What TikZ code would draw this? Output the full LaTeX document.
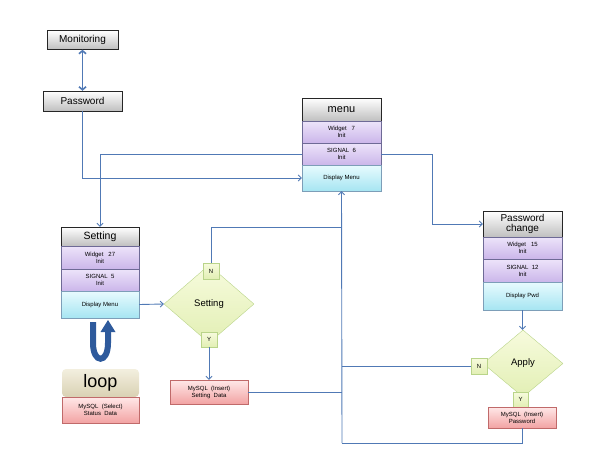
\documentclass[tikz,border=0pt]{standalone}
\usepackage{fontspec}
\setmainfont{Liberation Sans}
\usetikzlibrary{shapes.geometric,arrows.meta,shadows}
\definecolor{conn}{HTML}{5079B5}
\definecolor{lavtop}{HTML}{EDE4FA}
\definecolor{lavbot}{HTML}{CBB6EA}
\definecolor{lavdraw}{HTML}{6E6A96}
\definecolor{cyantop}{HTML}{E8FBFE}
\definecolor{cyanbot}{HTML}{A6E5F2}
\definecolor{cyandraw}{HTML}{7D9EB8}
\definecolor{pinktop}{HTML}{FFE8E8}
\definecolor{pinkbot}{HTML}{F2A3A3}
\definecolor{pinkdraw}{HTML}{C06A6A}
\definecolor{dtop}{HTML}{F7FBDD}
\definecolor{dbot}{HTML}{E2EFB4}
\definecolor{ddraw}{HTML}{B9D48A}
\definecolor{looptop}{HTML}{F3EFDF}
\definecolor{loopbot}{HTML}{D9D1B3}
\definecolor{uarrow}{HTML}{2E5A9C}
\begin{document}
\begin{tikzpicture}[x=1pt,y=-1pt,
  base/.style={rectangle, inner sep=0pt, align=center, minimum width=79pt},
  titlebox/.style={base, draw=black!85, top color=white, bottom color=gray!50,
    font=\fontsize{10}{11}\selectfont},
  lavbox/.style={base, draw=lavdraw, top color=lavtop, bottom color=lavbot,
    font=\fontsize{6}{7}\selectfont},
  cyanbox/.style={base, draw=cyandraw, top color=cyantop, bottom color=cyanbot,
    font=\fontsize{6}{7}\selectfont},
  pinkbox/.style={base, draw=pinkdraw, top color=pinktop, bottom color=pinkbot,
    font=\fontsize{6}{7}\selectfont},
  decision/.style={diamond, inner sep=0pt, draw=ddraw, top color=dtop, bottom color=dbot,
    font=\fontsize{9.5}{10}\selectfont},
  yn/.style={rectangle, inner sep=0pt, minimum width=16pt, minimum height=16pt,
    draw=ddraw, top color=dtop, bottom color=dbot, font=\fontsize{6}{7}\selectfont},
  conline/.style={draw=conn, line width=0.9pt},
  conarrow/.style={conline, -{Straight Barb[length=3pt,width=6pt]}},
]
\useasboundingbox (0,0) rectangle (612,461);

% Monitoring / Password
\node[titlebox, minimum width=71pt, minimum height=19pt] (mon) at (82.5,40) {Monitoring};
\node[titlebox, minimum width=79pt, minimum height=20pt] (pwd) at (82.5,101) {Password};

% menu block
\node[titlebox, minimum height=23pt, font=\fontsize{11}{12}\selectfont] (menuT) at (341.5,109.5) {menu};
\node[lavbox, minimum height=22pt] (menuW) at (341.5,132) {Widget\ \ \ 7\\Init};
\node[lavbox, minimum height=22pt] (menuS) at (341.5,154) {SIGNAL\ \ 6\\Init};
\node[cyanbox, minimum height=26pt] (menuD) at (341.5,178) {Display Menu};

% Setting block
\node[titlebox, minimum width=78pt, minimum height=19pt, font=\fontsize{10.5}{11}\selectfont] (setT) at (100,236.5) {Setting};
\node[lavbox, minimum width=78pt, minimum height=23pt] (setW) at (100,257.5) {Widget\ \ \ 27\\Init};
\node[lavbox, minimum width=78pt, minimum height=22pt] (setS) at (100,280) {SIGNAL\ \ 5\\Init};
\node[cyanbox, minimum width=78pt, minimum height=27pt] (setD) at (100,304.5) {Display Menu};

% loop
\node[rectangle, rounded corners=4pt, inner sep=0pt, minimum width=77pt, minimum height=28pt,
  top color=looptop, bottom color=loopbot,
  font=\fontsize{18}{19}\selectfont] (loop) at (100.5,383) {loop};
\node[pinkbox, minimum width=77pt, minimum height=26pt] (sel) at (100.5,410) {MySQL\ \ (Select)\\Status\ \ Data};

% U-turn arrow
\draw[uarrow, line width=6pt] (93,322) -- (93,343) .. controls (93,364) and (108,364) .. (108,343) -- (108,331);
\fill[uarrow] (100.5,332) -- (115.5,332) -- (108,320) -- cycle;

% Setting decision
\node[decision, minimum width=90pt, minimum height=78pt] (setDec) at (209,304) {Setting};
\node[yn] (setN) at (211,271) {N};
\node[yn, minimum height=15pt] (setY) at (209,339.5) {Y};
\node[pinkbox, minimum width=78pt, minimum height=24pt] (ins) at (209,392) {MySQL\ \ (Insert)\\Setting\ \ Data};

% Password change block
\node[titlebox, minimum height=26pt, font=\fontsize{10}{10.5}\selectfont] (pcT) at (522.5,224) {Password\\change};
\node[lavbox, minimum height=22pt] (pcW) at (522.5,248) {Widget\ \ \ 15\\Init};
\node[lavbox, minimum height=23pt] (pcS) at (522.5,270.5) {SIGNAL\ \ 12\\Init};
\node[cyanbox, minimum height=28pt] (pcD) at (522.5,296) {Display Pwd};

% Apply decision
\node[decision, minimum width=80pt, minimum height=67pt] (apply) at (523,363.5) {Apply};
\node[yn] (apN) at (479,366) {N};
\node[yn, minimum width=15pt, minimum height=15pt] (apY) at (520.5,399.5) {Y};
\node[pinkbox, minimum width=68pt, minimum height=21pt] (pwIns) at (522,417.5) {MySQL\ \ (Insert)\\Password};

% junction coordinates
\coordinate (jBot) at (342,443);
\coordinate (jN) at (342,227);
\coordinate (jA) at (342,366);
\coordinate (jS) at (342,392);
\coordinate (pLeft) at (82.5,178);
\coordinate (pcTurn) at (432,153);

% connectors
\draw[draw=conn, line width=1.6pt, {Straight Barb[length=3pt,width=7pt]}-{Straight Barb[length=3pt,width=7pt]}] (mon.south) -- (pwd.north);
\draw[conarrow] (pwd.south) |- (menuD.west);
\draw[conarrow] (menuS.west) -| (setT.north);
\draw[conarrow] (menuS.east) -- (menuS.east -| pcTurn) |- (pcT.west);
\draw[conarrow] (setD.east) -- (setDec.west);
\draw[conline] (setN.north) |- (jN);
\draw[conarrow] (setY.south) -- (ins.north);
\draw[conline] (ins.east) -- (jS);
\draw[conarrow] (jBot) -- (menuD.south);
\draw[conarrow] (pcD.south) -- (pcD.south |- apply.north);
\draw[conline] (apN.west) -- (jA);
\draw[conline] (pwIns.south) |- (jBot);
\end{tikzpicture}
\end{document}
